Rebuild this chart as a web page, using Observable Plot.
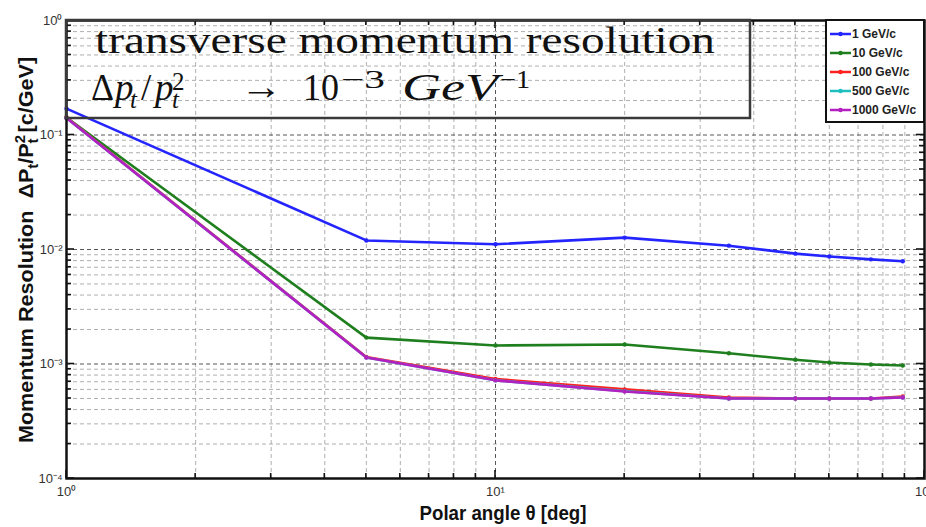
<!DOCTYPE html>
<html><head><meta charset="utf-8">
<script src="https://cdn.jsdelivr.net/npm/d3@7"></script>
<script src="https://cdn.jsdelivr.net/npm/@observablehq/plot@0.6"></script>
<style>
html,body{margin:0;padding:0;background:#fff;overflow:hidden;width:926px;height:527px;}
#chart svg{overflow:visible;display:block}
</style></head><body><div id="chart"></div>
<script>
// ---- data ----
const angles = [1, 5, 10, 20, 35, 50, 60, 75, 89];
const res1GeV    = [0.170, 0.0120, 0.0111, 0.0127, 0.0108, 0.0092, 0.0087, 0.0082, 0.0079];
const res10GeV   = [0.142, 0.00170, 0.00145, 0.00148, 0.00124, 0.00109, 0.00103, 0.00099, 0.00097];
const res100GeV  = [0.142, 0.00115, 0.00074, 0.00060, 0.00051, 0.00050, 0.00050, 0.00050, 0.00052];
const res500GeV  = [0.141, 0.00114, 0.00072, 0.00058, 0.00050, 0.00050, 0.00050, 0.00050, 0.00051];
const res1000GeV = [0.141, 0.00114, 0.00072, 0.000575, 0.00050, 0.00050, 0.00050, 0.00050, 0.00051];
const seriesNames = ["1 GeV/c", "10 GeV/c", "100 GeV/c", "500 GeV/c", "1000 GeV/c"];
const seriesColors = ["#2424ff", "#1f7f1f", "#ff2020", "#1fbfbf", "#b41fc2"];
const xMajorTicks = [1, 10, 100];
const xTickLabels = ["10⁰", "10¹", "10²"];
const yMajorTicks = [1, 0.1, 0.01, 0.001, 0.0001];
const yTickLabels = ["10⁰", "10⁻¹", "10⁻²", "10⁻³", "10⁻⁴"];
const xAxisTitle = "Polar angle θ [deg]";
const titleLine1 = "transverse momentum resolution";

const seriesValues = [res1GeV, res10GeV, res100GeV, res500GeV, res1000GeV];
const rows = [];
seriesNames.forEach((s, k) => angles.forEach((a, i) => rows.push({series: s, angle: a, res: seriesValues[k][i]})));

const xMinor = []; for (const d of [1, 10]) for (let m = 2; m <= 9; m++) xMinor.push(d * m);
const yMinor = []; for (const d of [0.0001, 0.001, 0.01, 0.1]) for (let m = 2; m <= 9; m++) yMinor.push(d * m);
const xLab = new Map(xMajorTicks.map((d, i) => [d, xTickLabels[i]]));
const yLab = new Map(yMajorTicks.map((d, i) => [d, yTickLabels[i]]));

const W = 926, H = 527, mL = 66, mR = 2, mT = 20, mB = 49;
const plot = Plot.plot({
  width: W, height: H, marginLeft: mL, marginRight: mR, marginTop: mT, marginBottom: mB,
  x: {type: "log", domain: [1, 100]},
  y: {type: "log", domain: [0.0001, 1]},
  color: {domain: seriesNames, range: seriesColors},
  style: {fontFamily: "Liberation Sans, Arial, sans-serif", background: "#fff", overflow: "visible"},
  marks: [
    Plot.ruleX(xMinor, {stroke: "#8c8c8c", strokeWidth: 0.7, strokeDasharray: "4,3"}),
    Plot.ruleY(yMinor, {stroke: "#8c8c8c", strokeWidth: 0.7, strokeDasharray: "4,3"}),
    Plot.ruleX(xMajorTicks, {stroke: "#444", strokeWidth: 0.9, strokeDasharray: "4,3"}),
    Plot.ruleY(yMajorTicks, {stroke: "#444", strokeWidth: 0.9, strokeDasharray: "4,3"}),
    Plot.line(rows, {x: "angle", y: "res", stroke: "series", z: "series", strokeWidth: 2.6}),
    Plot.dot(rows, {x: "angle", y: "res", fill: "series", r: 2.2}),
    Plot.axisX(xMajorTicks, {tickSize: 0, tickPadding: 8, tickFormat: d => xLab.get(d), fontSize: 13, fill: "#333", label: null}),
    Plot.axisY(yMajorTicks, {tickSize: 0, tickPadding: 4, tickFormat: d => yLab.get(d), fontSize: 13, fill: "#333", label: null}),
    Plot.frame({stroke: "#111", strokeWidth: 2.5})
  ]
});
document.getElementById("chart").appendChild(plot);

const svg = d3.select(plot);
const sx = plot.scale("x"), sy = plot.scale("y");
const X = v => sx.apply(v), Y = v => sy.apply(v);
const pLeft = X(1), pRight = X(100), pTop = Y(1), pBottom = Y(0.0001);

// inside tick marks on all four sides
const tg = svg.append("g").attr("stroke", "#111").attr("stroke-width", 1.6);
const xt = xMajorTicks.map(v => [v, 8]).concat(xMinor.map(v => [v, 5]));
for (const [v, len] of xt) {
  tg.append("line").attr("x1", X(v)).attr("x2", X(v)).attr("y1", pBottom).attr("y2", pBottom - len);
  tg.append("line").attr("x1", X(v)).attr("x2", X(v)).attr("y1", pTop).attr("y2", pTop + len);
}
const yt = yMajorTicks.map(v => [v, 8]).concat(yMinor.map(v => [v, 5]));
for (const [v, len] of yt) {
  tg.append("line").attr("y1", Y(v)).attr("y2", Y(v)).attr("x1", pLeft).attr("x2", pLeft + len);
  tg.append("line").attr("y1", Y(v)).attr("y2", Y(v)).attr("x1", pRight).attr("x2", pRight - len);
}

// axis titles (reference text is anisotropically scaled)
const xTitle = svg.append("text").attr("x", 0).attr("y", 0).attr("text-anchor", "middle")
  .attr("font-size", 20).attr("font-weight", "bold").attr("fill", "#111").text(xAxisTitle);
{
  const w = xTitle.node().getComputedTextLength();
  xTitle.attr("transform", `translate(503,520) scale(${167 / w},1)`);
}

const yTitle = svg.append("text").attr("x", 0).attr("y", 0)
  .attr("text-anchor", "middle").attr("font-size", 20).attr("font-weight", "bold").attr("fill", "#111");
yTitle.append("tspan").text("Momentum Resolution  ΔP");
yTitle.append("tspan").attr("font-size", 14).attr("dy", 5).text("t");
yTitle.append("tspan").attr("dy", -5).text("/P");
yTitle.append("tspan").attr("font-size", 14).attr("dy", -8).text("2");
yTitle.append("tspan").attr("font-size", 14).attr("dx", -8).attr("dy", 13).text("t");
yTitle.append("tspan").attr("dy", -5).text(" [c/GeV]");
{
  const w = yTitle.node().getComputedTextLength();
  yTitle.attr("transform", `translate(33,250) rotate(-90) scale(${395 / w},1)`);
}

// annotation box
svg.append("rect").attr("x", pLeft).attr("y", pTop).attr("width", 684).attr("height", 98)
  .attr("fill", "none").attr("stroke", "#3a3a3a").attr("stroke-width", 2.5);
const serif = "Liberation Serif, DejaVu Serif, serif";
svg.append("text").attr("x", 95).attr("y", 53).attr("font-family", serif).attr("font-size", 37)
  .attr("text-anchor", "start")
  .attr("fill", "#111").attr("textLength", 620).attr("lengthAdjust", "spacingAndGlyphs")
  .text(titleLine1);

// second line: Δp_t/p_t^2 → 10^-3 GeV^-1
const l2 = svg.append("g").attr("font-family", serif).attr("fill", "#111");
const base = 100;
function piece(txt, x, dy, size, italic, len) {
  const t = l2.append("text").attr("x", x).attr("y", base + dy).attr("font-size", size)
    .attr("text-anchor", "start").attr("font-style", italic ? "italic" : "normal").text(txt);
  if (len) t.attr("textLength", len).attr("lengthAdjust", "spacingAndGlyphs");
}
piece("Δ", 91, 0, 37, false, 23);
piece("p", 115, 0, 37, true);
piece("t", 130, 8, 25, true);
piece("/", 141, 0, 37, false);
piece("p", 155, 0, 37, true);
piece("2", 172, -10, 25, false);
piece("t", 172, 8, 25, true);
piece("→", 240, -1, 37, false, 42);
piece("10", 303, 0, 37, false, 36);
piece("−3", 341, -12, 25, false, 44);
piece("GeV", 402, 0, 37, true, 96);
piece("−1", 500, -12, 25, false, 30);

// legend
const lg = svg.append("g");
lg.append("rect").attr("x", 826).attr("y", pTop).attr("width", pRight - 826).attr("height", 102)
  .attr("fill", "#fff").attr("stroke", "#111").attr("stroke-width", 2);
seriesNames.forEach((s, i) => {
  const yy = 34 + i * 19;
  lg.append("line").attr("x1", 830).attr("x2", 851).attr("y1", yy).attr("y2", yy)
    .attr("stroke", seriesColors[i]).attr("stroke-width", 2.5);
  lg.append("circle").attr("cx", 840.5).attr("cy", yy).attr("r", 2.2).attr("fill", seriesColors[i]);
  lg.append("text").attr("x", 852).attr("y", yy + 4).attr("font-size", 12).attr("font-weight", "bold")
    .attr("text-anchor", "start").attr("fill", "#222").text(s);
});
</script></body></html>
